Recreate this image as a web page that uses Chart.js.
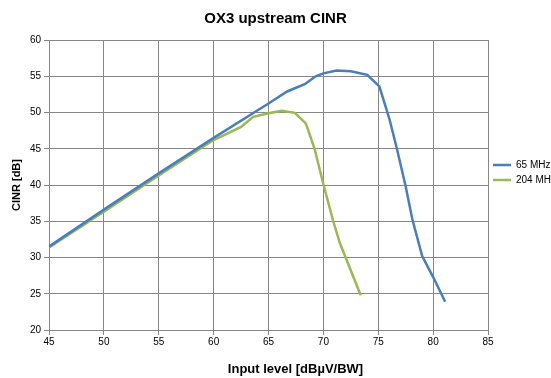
<!DOCTYPE html>
<html>
<head>
<meta charset="utf-8">
<script src="https://cdn.jsdelivr.net/npm/chart.js@4/dist/chart.umd.min.js"></script>
<style>
  html, body { margin: 0; padding: 0; background: #fff; overflow: hidden; }
  canvas { display: block; }
</style>
</head>
<body>
<canvas id="c" width="551" height="378"></canvas>
<script>
// ---- data ----
const chartTitle = 'OX3 upstream CINR';
const xAxisTitle = 'Input level [dBµV/BW]';
const yAxisTitle = 'CINR [dB]';
const seriesLabels = ['65 MHz', '204 MHz'];

const level65 = [45, 50, 55, 60, 65, 66.7, 68.3, 69.3, 70.0, 71.2, 72.5, 74.0, 75.1, 76.0, 76.7, 77.5, 78.1, 79.0, 80.0, 81.1];
const cinr65  = [31.5, 36.6, 41.6, 46.5, 51.25, 52.9, 53.9, 55.0, 55.4, 55.8, 55.7, 55.2, 53.6, 49.2, 45.0, 39.8, 35.3, 30.2, 27.3, 23.9];

const level204 = [45, 50, 55, 60, 62.5, 63.6, 65, 66.2, 67.4, 68.4, 69.2, 70.0, 70.9, 71.5, 72.5, 73.4];
const cinr204  = [31.4, 36.3, 41.3, 46.2, 48.0, 49.4, 49.9, 50.25, 49.95, 48.5, 45.0, 40.1, 35.0, 32.0, 28.2, 24.8];

const xMin = 45, xMax = 85, xStep = 5;
const yMin = 20, yMax = 60, yStep = 5;

const toPoints = (xs, ys) => xs.map((x, i) => ({ x: x, y: ys[i] }));

const gridColor = '#868686';
const fontFamily = '"Liberation Sans", Arial, sans-serif';

const xTitlePlugin = {
  id: 'xTitlePlugin',
  afterDraw(chart) {
    const ctx = chart.ctx;
    const a = chart.chartArea;
    ctx.save();
    ctx.font = 'bold 13px ' + fontFamily;
    ctx.fillStyle = '#000';
    ctx.textAlign = 'center';
    ctx.textBaseline = 'middle';
    ctx.fillText(xAxisTitle, (a.left + a.right) / 2 + 27, a.bottom + 39);
    ctx.restore();
  }
};

new Chart(document.getElementById('c'), {
  type: 'line',
  data: {
    datasets: [
      {
        label: seriesLabels[0],
        data: toPoints(level65, cinr65),
        borderColor: '#4a7ebb',
        backgroundColor: '#4a7ebb',
        borderWidth: 2.5,
        pointRadius: 0,
        tension: 0,
        fill: false
      },
      {
        label: seriesLabels[1],
        data: toPoints(level204, cinr204),
        borderColor: '#98b954',
        backgroundColor: '#98b954',
        borderWidth: 2.5,
        pointRadius: 0,
        tension: 0,
        fill: false
      }
    ]
  },
  options: {
    responsive: false,
    animation: false,
    layout: { padding: 0 },
    plugins: {
      title: {
        display: true,
        text: chartTitle,
        color: '#000',
        font: { family: fontFamily, size: 15, weight: 'bold' },
        padding: { top: 10, bottom: 12 }
      },
      legend: {
        position: 'right',
        align: 'start',
        maxWidth: 63,
        title: { display: true, text: '', font: { size: 10 }, padding: { top: 143, bottom: 0 } },
        labels: {
          usePointStyle: true,
          pointStyle: 'line',
          pointStyleWidth: 18,
          boxHeight: 10,
          padding: 5,
          color: '#000',
          font: { family: fontFamily, size: 10 }
        }
      },
      tooltip: { enabled: false }
    },
    scales: {
      x: {
        type: 'linear',
        min: xMin,
        max: xMax,
        ticks: { stepSize: xStep, color: '#000', padding: 1, font: { family: fontFamily, size: 10 } },
        grid: { color: gridColor, tickLength: 5, tickColor: gridColor },
        border: { color: gridColor },
        title: { display: false },
        afterFit(scale) { scale.height = 48; }
      },
      y: {
        type: 'linear',
        min: yMin,
        max: yMax,
        ticks: { stepSize: yStep, color: '#000', padding: 3, font: { family: fontFamily, size: 10 } },
        grid: { color: gridColor, tickLength: 5, tickColor: gridColor },
        border: { color: gridColor },
        title: {
          display: true,
          text: yAxisTitle,
          color: '#000',
          font: { family: fontFamily, size: 11, weight: 'bold' },
          padding: { top: 10, bottom: 0 }
        },
        afterFit(scale) { scale.width = 49; }
      }
    }
  },
  plugins: [xTitlePlugin]
});
</script>
</body>
</html>
